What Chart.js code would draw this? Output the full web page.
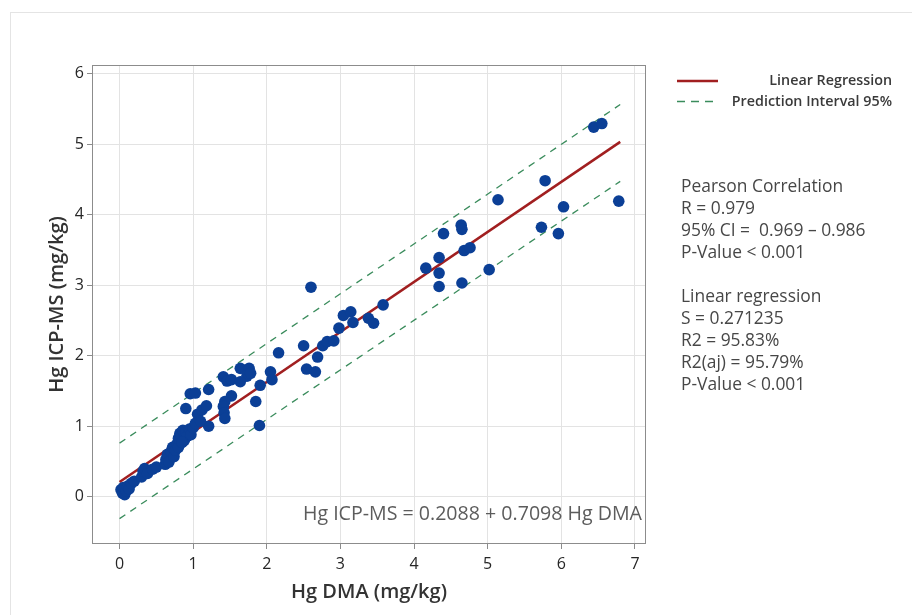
<!DOCTYPE html>
<html><head><meta charset="utf-8">
<script src="https://cdn.jsdelivr.net/npm/chart.js@4.4.1/dist/chart.umd.min.js"></script>
<style>
html,body{margin:0;padding:0;background:#fff;}
#wrap{position:relative;width:912px;height:615px;overflow:hidden;background:#fff;}
#frame{position:absolute;left:10px;top:12px;width:1000px;height:700px;border:1px solid #e4e4e4;box-sizing:border-box;}
canvas{position:absolute;left:0;top:0;}
</style></head><body>
<div id="wrap"><div id="frame"></div><canvas id="c" width="912" height="615"></canvas></div>
<script>
// ---- data ----
const hgDMA = [
 0.02,0.04,0.05,0.07,0.09,0.11,0.13,0.16,0.20,0.30,0.32,0.34,0.38,0.45,0.50,
 0.62,0.63,0.65,0.67,0.70,0.72,0.74,0.76,0.78,0.80,
 0.80,0.82,0.84,0.86,0.88,0.90,0.92,0.95,0.97,1.00,0.85,
 0.90,0.96,1.03,1.06,1.12,1.18,1.21,1.21,1.03,1.10,
 1.41,1.46,1.52,1.52,1.64,1.76,1.73,1.64,1.78,1.43,1.41,1.42,1.43,1.85,1.90,1.91,
 2.05,2.07,2.16,
 2.60,2.50,2.54,2.66,2.69,2.76,2.82,2.91,2.98,3.04,3.14,3.17,3.38,3.45,3.58,
 6.44,6.55,5.78,5.14,6.78,6.03,4.64,4.65,4.40,5.73,5.96,4.68,4.76,4.34,4.16,4.34,5.02,4.34,4.65
];
const hgICPMS = [
 0.10,0.05,0.13,0.03,0.08,0.15,0.11,0.19,0.22,0.28,0.36,0.40,0.33,0.39,0.42,
 0.46,0.53,0.60,0.49,0.64,0.70,0.57,0.66,0.75,0.70,
 0.83,0.90,0.86,0.94,0.80,0.92,0.86,0.96,0.88,0.98,0.77,
 1.25,1.46,1.47,1.17,1.23,1.29,1.52,1.00,1.04,1.07,
 1.70,1.64,1.66,1.43,1.82,1.82,1.71,1.63,1.75,1.35,1.28,1.19,1.11,1.35,1.01,1.58,
 1.77,1.66,2.04,
 2.97,2.14,1.81,1.77,1.98,2.14,2.20,2.21,2.39,2.57,2.62,2.47,2.53,2.46,2.72,
 5.24,5.29,4.48,4.21,4.19,4.11,3.85,3.79,3.73,3.82,3.73,3.49,3.53,3.39,3.24,3.17,3.22,2.98,3.03
];
const fitX = [0.0, 6.8];
const fitY = [0.21, 5.03];
const piUpperY = [0.76, 5.56];
const piLowerY = [-0.31, 4.47];
const xTicks = [0,1,2,3,4,5,6,7];
const yTicks = [0,1,2,3,4,5,6];
const xTitle = 'Hg DMA (mg/kg)';
const yTitle = 'Hg ICP-MS (mg/kg)';
const legendLabels = ['Linear Regression', 'Prediction Interval 95%'];
const pearsonLines = ['Pearson Correlation', 'R = 0.979', '95% CI =  0.969 \u2013 0.986', 'P-Value < 0.001'];
const regressionLines = ['Linear regression', 'S = 0.271235', 'R2 = 95.83%', 'R2(aj) = 95.79%', 'P-Value < 0.001'];
const equationText = 'Hg ICP-MS = 0.2088 + 0.7098 Hg DMA';

// ---- styling ----
const FONT = "'Open Sans', 'Noto Sans', sans-serif";
const RED = '#a11f20', GREEN = '#3a8c5c', BLUE = '#0b3f96';

const toXY = (xs, ys) => xs.map((x, i) => ({x, y: ys[i]}));

const decor = {
  id: 'decor',
  afterDatasetsDraw(chart) {
    const {ctx, chartArea: a} = chart;
    ctx.save();
    // plot frame
    ctx.strokeStyle = '#8c8c8c';
    ctx.lineWidth = 1;
    ctx.strokeRect(Math.round(a.left) + 0.5, Math.round(a.top) + 0.5,
                   Math.round(a.right - a.left) - 1, Math.round(a.bottom - a.top) - 1);
    // equation
    ctx.fillStyle = '#5c5c5c';
    ctx.font = "19.6px " + FONT;
    ctx.textAlign = 'right';
    ctx.textBaseline = 'middle';
    ctx.fillText(equationText, 642, 514);
    // legend
    ctx.lineWidth = 2.5;
    ctx.strokeStyle = RED;
    ctx.beginPath(); ctx.moveTo(677, 81); ctx.lineTo(718, 81); ctx.stroke();
    ctx.lineWidth = 1.3;
    ctx.strokeStyle = GREEN;
    ctx.setLineDash([8, 6]);
    ctx.beginPath(); ctx.moveTo(677, 101.5); ctx.lineTo(719, 101.5); ctx.stroke();
    ctx.setLineDash([]);
    ctx.fillStyle = '#3a3a3a';
    ctx.font = "600 14.3px " + FONT;
    ctx.textAlign = 'right';
    ctx.fillText(legendLabels[0], 892, 81);
    ctx.fillText(legendLabels[1], 892, 101.5);
    // stats
    ctx.fillStyle = '#474747';
    ctx.font = "17.4px " + FONT;
    ctx.textAlign = 'left';
    pearsonLines.forEach((t, i) => ctx.fillText(t, 681, 187 + i * 21.9));
    regressionLines.forEach((t, i) => ctx.fillText(t, 681, 297 + i * 22));
    ctx.restore();
  }
};

new Chart(document.getElementById('c'), {
  type: 'scatter',
  data: {
    datasets: [
      { label: 'Samples', data: toXY(hgDMA, hgICPMS), backgroundColor: BLUE, borderColor: BLUE,
        borderWidth: 0, pointRadius: 5.8, pointHoverRadius: 5.8 },
      { label: legendLabels[0], data: toXY(fitX, fitY), showLine: true, borderColor: RED,
        borderWidth: 2.5, pointRadius: 0, fill: false },
      { label: legendLabels[1], data: toXY(fitX, piUpperY), showLine: true, borderColor: GREEN,
        borderWidth: 1.3, borderDash: [7, 6], pointRadius: 0, fill: false },
      { label: legendLabels[1] + ' lower', data: toXY(fitX, piLowerY), showLine: true, borderColor: GREEN,
        borderWidth: 1.3, borderDash: [7, 6], pointRadius: 0, fill: false }
    ]
  },
  options: {
    responsive: false,
    animation: false,
    events: [],
    layout: { padding: { left: 0, top: 65, right: 266, bottom: 0 } },
    plugins: { legend: { display: false }, tooltip: { enabled: false } },
    scales: {
      x: {
        type: 'linear', min: -0.374, max: 7.15,
        afterFit: s => { s.height = 71; },
        afterBuildTicks: s => { s.ticks = xTicks.map(v => ({value: v})); },
        ticks: { stepSize: 1, includeBounds: false, padding: 6, color: '#262626',
                 font: { family: FONT, size: 16 } },
        grid: { color: '#e3e3e3', lineWidth: 1, tickColor: '#8c8c8c', tickLength: 5 },
        border: { display: false },
        title: { display: true, text: xTitle, color: '#333', padding: { top: 0, bottom: 11 },
                 font: { family: FONT, size: 20, weight: '600' } }
      },
      y: {
        type: 'linear', min: -0.67, max: 6.12,
        afterFit: s => { s.width = 92; },
        afterBuildTicks: s => { s.ticks = yTicks.map(v => ({value: v})); },
        ticks: { stepSize: 1, includeBounds: false, padding: 3, color: '#262626',
                 font: { family: FONT, size: 16 } },
        grid: { color: '#e3e3e3', lineWidth: 1, tickColor: '#8c8c8c', tickLength: 5 },
        border: { display: false },
        title: { display: true, text: yTitle, color: '#333', padding: { top: 45, bottom: 0 },
                 font: { family: FONT, size: 20, weight: '600' } }
      }
    }
  },
  plugins: [decor]
});
</script>
</body></html>
